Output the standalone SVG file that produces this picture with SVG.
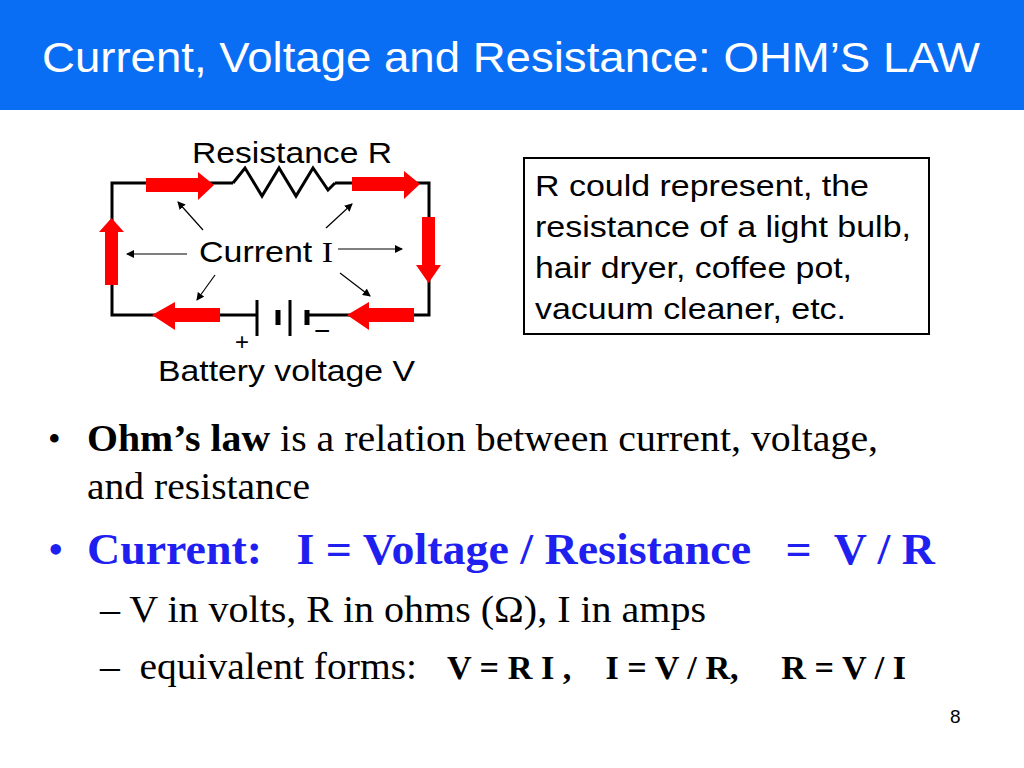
<svg xmlns="http://www.w3.org/2000/svg" width="1024" height="768" viewBox="0 0 1024 768">
<style>
.s{font-family:"Liberation Sans",Arial,sans-serif}
.t{font-family:"Liberation Serif","Times New Roman",serif}
.w{stroke:#000;stroke-width:3;fill:none}
.a{stroke:#000;stroke-width:1.2;fill:none;marker-end:url(#m)}
.r{fill:#f00}
</style>
<defs><marker id="m" markerWidth="8" markerHeight="8" refX="7" refY="4" orient="auto" markerUnits="userSpaceOnUse"><path d="M0,0 L8,4 L0,8 Z" fill="#000"/></marker></defs>
<rect x="0" y="0" width="1024" height="110" fill="#0a6ef5"/>
<text x="42" y="72" class="s" font-size="43" fill="#fff" textLength="938" lengthAdjust="spacingAndGlyphs">Current, Voltage and Resistance: OHM’S LAW</text>
<g id="circuit">
<path class="w" d="M233,183 H112 V315 H257 M307,315 H429 V183 H335"/>
<path class="w" d="M233,183 L245,168 L262,196 L279,168 L296,196 L313,168 L328,190 L335,183"/>
<path stroke="#000" stroke-width="3" d="M257,300 V336 M290,300 V336"/>
<path stroke="#000" stroke-width="5" d="M278,310 V325 M307,310 V325"/>
</g>
<g id="red-arrows">
<path class="r" d="M146,178 H198 V172 L214,185 L198,200 V192 H146 Z"/>
<path class="r" d="M352,177 H404 V171 L420,184 L404,199 V191 H352 Z"/>
<path class="r" d="M422,217 H435 V265 H441 L428.5,283 L416,265 H422 Z"/>
<path class="r" d="M414,308 H369 V302 L347,315 L369,330 V322 H414 Z"/>
<path class="r" d="M220,308 H175 V302 L152,315 L175,330 V322 H220 Z"/>
<path class="r" d="M105,285 V232 H99 L111.5,218 L124,232 H118 V285 Z"/>
</g>
<g id="labels">
<text x="192" y="163" class="s" font-size="30" textLength="200" lengthAdjust="spacingAndGlyphs">Resistance R</text>
<text x="199" y="262" class="s" font-size="30" textLength="134" lengthAdjust="spacingAndGlyphs">Current <tspan class="t">I</tspan></text>
<text x="235" y="350" class="s" font-size="24">+</text>
<text x="314" y="340" class="s" font-size="28">−</text>
<text x="158" y="381" class="s" font-size="30" textLength="257" lengthAdjust="spacingAndGlyphs">Battery voltage V</text>
</g>
<g id="connectors">
<path class="a" d="M203,230 L178,202"/>
<path class="a" d="M187,254 L127,254"/>
<path class="a" d="M215,275 L197,300"/>
<path class="a" d="M326,228 L352,204"/>
<path class="a" d="M338,249 L402,249"/>
<path class="a" d="M340,273 L370,296"/>
</g>
<g id="note" class="s" font-size="30">
<rect x="524" y="158" width="405" height="176" fill="#fff" stroke="#000" stroke-width="2"/>
<text x="535" y="196" textLength="334" lengthAdjust="spacingAndGlyphs">R could represent, the</text>
<text x="535" y="237" textLength="376" lengthAdjust="spacingAndGlyphs">resistance of a light bulb,</text>
<text x="535" y="278" textLength="317" lengthAdjust="spacingAndGlyphs">hair dryer, coffee pot,</text>
<text x="535" y="319" textLength="311" lengthAdjust="spacingAndGlyphs">vacuum cleaner, etc.</text>
</g>
<g id="bullets" class="t">
<text x="48" y="451" font-size="36">•</text>
<text x="87" y="451" font-size="37" textLength="791" lengthAdjust="spacingAndGlyphs"><tspan font-weight="bold">Ohm’s law</tspan> is a relation between current, voltage,</text>
<text x="87" y="499" font-size="37" textLength="223" lengthAdjust="spacingAndGlyphs">and resistance</text>
<text x="48" y="564" font-size="44" fill="#1f1ff0">•</text>
<text x="87" y="564" font-size="45" font-weight="bold" fill="#1f1ff0" xml:space="preserve" textLength="848" lengthAdjust="spacingAndGlyphs">Current:   I = Voltage / Resistance   =  V / R</text>
<text x="100" y="622" font-size="37" textLength="606" lengthAdjust="spacingAndGlyphs">– V in volts, R in ohms (Ω), I in amps</text>
<text x="100" y="679" font-size="37" xml:space="preserve" textLength="317" lengthAdjust="spacingAndGlyphs">–  equivalent forms:</text>
<text x="447" y="679" font-size="33" font-weight="bold" xml:space="preserve" textLength="459" lengthAdjust="spacingAndGlyphs">V = R I ,    I = V / R,     R = V / I</text>
</g>
<text x="950" y="723" class="s" font-size="19">8</text>
</svg>
